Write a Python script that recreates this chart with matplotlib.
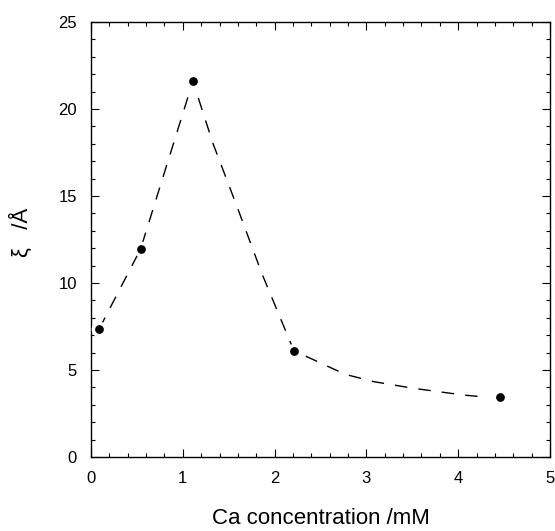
import matplotlib
matplotlib.use("Agg")
import matplotlib.pyplot as plt
from matplotlib.ticker import MultipleLocator

plt.rcParams['font.family'] = ['Liberation Sans', 'DejaVu Sans']

# data points
conc = [0.09, 0.54, 1.11, 2.21, 4.45]
xi = [7.37, 11.95, 21.6, 6.11, 3.43]

# dashed guide-to-the-eye curve
guide_x = [0.09, 0.54, 1.11, 1.33, 1.59, 1.86, 2.21, 2.44, 2.77, 3.08, 3.51, 4.06, 4.22]
guide_y = [7.37, 11.95, 21.6, 18.0, 14.4, 10.56, 6.11, 5.55, 4.75, 4.33, 3.95, 3.56, 3.48]

fig = plt.figure(figsize=(5.55, 5.31), dpi=100)
ax = fig.add_axes([91/555, 1-457/531, (550-91)/555, (457-22)/531])

ax.plot(guide_x, guide_y, color='black', lw=1.0, dashes=(9, 8))
ax.plot(conc, xi, 'o', color='white', markersize=6.3, markeredgecolor='white',
        markeredgewidth=5, zorder=3)
ax.plot(conc, xi, 'o', color='black', markersize=6.3, markeredgewidth=0, zorder=4)

ax.set_xlim(0, 5)
ax.set_ylim(0, 25)
ax.xaxis.set_major_locator(MultipleLocator(1))
ax.xaxis.set_minor_locator(MultipleLocator(0.2))
ax.yaxis.set_major_locator(MultipleLocator(5))
ax.yaxis.set_minor_locator(MultipleLocator(1))
ax.tick_params(which='both', direction='in', top=True, right=True, labelsize=12, width=0.8)
ax.tick_params(which='major', length=6, pad=10)
ax.tick_params(which='minor', length=3)
for s in ax.spines.values():
    s.set_linewidth(1.0)

fig.text(321/555, 1-519/531, 'Ca concentration /mM', fontsize=16, ha='center', va='center')
fig.text(21/555, 1-232/531, 'ξ   /Å', fontsize=16, ha='center', va='center', rotation=90)

fig.savefig('out.png', dpi=100)
